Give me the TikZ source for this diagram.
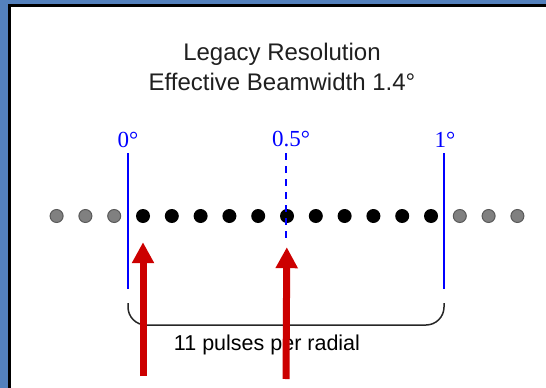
\documentclass[tikz,border=0pt]{standalone}
\usepackage{fontspec}
\setmainfont{Liberation Sans}
\newfontfamily\degfont{Liberation Serif}
\usepackage{tikz}
\usetikzlibrary{arrows.meta,positioning}

\definecolor{frameblue}{RGB}{84,129,189}
\definecolor{pulsered}{RGB}{204,0,0}

\begin{document}
\begin{tikzpicture}[
    x=1pt, y=-1pt,
    pulse/.style={circle, fill=black, inner sep=0pt, minimum size=14pt},
    sidepulse/.style={circle, draw=black!65, line width=1pt, fill=black!50, inner sep=0pt, minimum size=13pt},
    degree/.style={text=blue, font=\degfont\fontsize{23}{23}\selectfont, inner sep=0pt},
    edgeline/.style={blue, line width=2pt},
    beam/.style={pulsered, line width=7pt, -{Triangle[width=21pt,length=21pt]}},
    caption/.style={font=\fontsize{21.5}{21.5}\selectfont, inner sep=0pt}
]
    \useasboundingbox (0,0) rectangle (546,388);
    % frame
    \fill [frameblue] (0,0) rectangle (546,4);
    \fill [frameblue] (0,0) rectangle (8,388);
    \draw [line width=3pt] (9.5,388) -- (9.5,5.5) -- (546,5.5);

    % title
    \node [align=center, font=\fontsize{24}{30}\selectfont, text=black!88] (title) at (282,67)
        {Legacy Resolution\\Effective Beamwidth 1.4°};

    % pulses
    \foreach \i in {1,...,11}
        \node [pulse] (p\i) at ({114.2+28.8*\i},216) {};
    \foreach \i in {1,2,3} {
        \node [sidepulse] (l\i) at ({143-28.8*\i},216) {};
        \node [sidepulse] (r\i) at ({431+28.8*\i},216) {};
    }

    % angle marks
    \node [degree] (deg0) at (128,139.5) {0°};
    \node [degree] (deghalf) at (291,139.5) {0.5°};
    \node [degree] (deg1) at (445,139.5) {1°};
    \coordinate (t0) at (128,153);
    \coordinate (b0) at (128,289);
    \coordinate (thalf) at (286,153);
    \coordinate (bhalf) at (286,243);
    \coordinate (t1) at (444,153);
    \coordinate (b1) at (444,289);
    \draw [edgeline] (t0) -- (b0);
    \draw [edgeline, dash pattern=on 7pt off 6pt] (thalf) -- (bhalf);
    \draw [edgeline] (t1) -- (b1);

    % bracket
    \coordinate (brl) at (128,303);
    \coordinate (brr) at (444,303);
    \draw [line width=1.5pt, black!85, rounded corners=18pt] (brl) -- ++(0,22) -| (brr);
    \node [caption] (count) at (267,345) {11 pulses per radial};

    % arrows
    \coordinate (foot1) at (143,376);
    \coordinate (foot6) at (286,379);
    \draw [beam, shorten >=19pt] (foot1) -- (p1);
    \draw [beam, shorten >=24pt] (foot6) -- (p6);
\end{tikzpicture}
\end{document}
